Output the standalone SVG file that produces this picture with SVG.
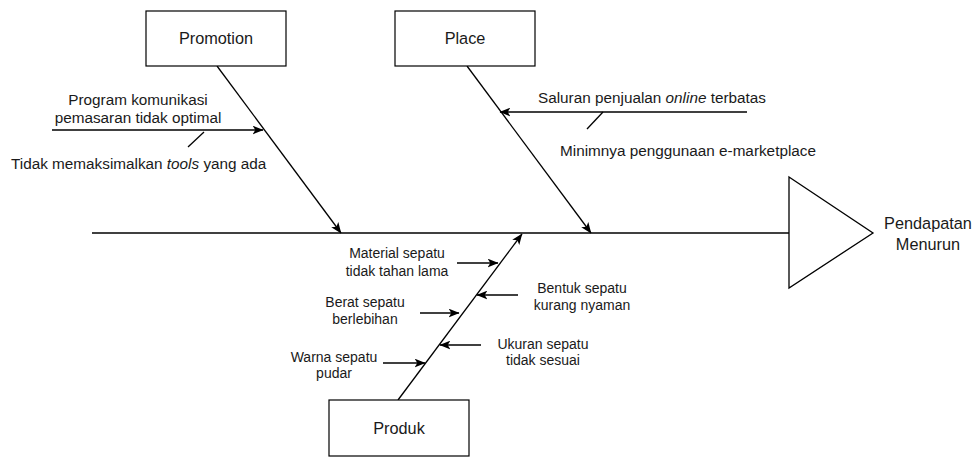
<svg xmlns="http://www.w3.org/2000/svg" width="977" height="457" viewBox="0 0 977 457">
<defs>
<marker id="arr" viewBox="0 0 10 8" refX="9.5" refY="4" markerWidth="11" markerHeight="9" markerUnits="userSpaceOnUse" orient="auto">
<path d="M0,0 L10,4 L0,8 L2.5,4 z" fill="#000"/>
</marker>
<style>
.box{fill:#fff;stroke:#000;stroke-width:1.2}
.ln{stroke:#000;stroke-width:1.3;fill:none}
.la{stroke:#000;stroke-width:1.3;fill:none;marker-end:url(#arr)}
.t{font-family:"Liberation Sans",Arial,sans-serif;font-size:14px;fill:#1a1a1a;text-anchor:middle;dominant-baseline:central}
.tm{font-family:"Liberation Sans",Arial,sans-serif;font-size:15.3px;fill:#1a1a1a;text-anchor:middle;dominant-baseline:central}
.tl{font-family:"Liberation Sans",Arial,sans-serif;font-size:15.3px;fill:#1a1a1a;dominant-baseline:central}
.tb{font-family:"Liberation Sans",Arial,sans-serif;font-size:16.3px;fill:#1a1a1a;text-anchor:middle;dominant-baseline:central}
</style>
</defs>
<rect width="977" height="457" fill="#fff"/>
<g id="connectors">
<line class="ln" x1="92" y1="233" x2="789" y2="233"/>
<line class="la" x1="217" y1="66" x2="341" y2="233"/>
<line class="la" x1="467" y1="66" x2="591" y2="233"/>
<line class="la" x1="398" y1="400" x2="522" y2="234"/>
<line class="la" x1="52" y1="130" x2="263" y2="130"/>
<line class="ln" x1="204" y1="132" x2="188" y2="147"/>
<line class="la" x1="747" y1="112" x2="500" y2="112"/>
<line class="ln" x1="603" y1="112" x2="587" y2="129"/>
<line class="la" x1="457" y1="263" x2="498" y2="263"/>
<line class="la" x1="518" y1="295" x2="477" y2="295"/>
<line class="la" x1="420" y1="313" x2="459" y2="313"/>
<line class="la" x1="481" y1="345" x2="440" y2="345"/>
<line class="la" x1="383" y1="363" x2="425" y2="363"/>
</g>
<g id="promotion">
<rect class="box" x="146" y="11" width="140" height="55"/>
<text class="tb" x="216" y="38">Promotion</text>
</g>
<g id="place">
<rect class="box" x="395" y="11" width="140" height="55"/>
<text class="tb" x="465" y="38">Place</text>
</g>
<g id="produk">
<rect class="box" x="329" y="400" width="140" height="56"/>
<text class="tb" x="399" y="428">Produk</text>
</g>
<g id="head">
<polygon points="789,177 873,233 789,288" fill="#fff" stroke="#000" stroke-width="1.3"/>
<text class="tb" x="928" y="223">Pendapatan</text>
<text class="tb" x="928" y="244">Menurun</text>
</g>
<g id="promo-causes">
<text class="tm" x="138" y="99">Program komunikasi</text>
<text class="tm" x="138" y="117">pemasaran tidak optimal</text>
<text class="tl" x="11" y="163">Tidak memaksimalkan <tspan font-style="italic">tools</tspan> yang ada</text>
</g>
<g id="place-causes">
<text class="tl" x="538" y="97">Saluran penjualan <tspan font-style="italic">online</tspan> terbatas</text>
<text class="tl" x="560" y="150">Minimnya penggunaan e-marketplace</text>
</g>
<g id="produk-causes">
<text class="t" x="397" y="253">Material sepatu</text>
<text class="t" x="397" y="271">tidak tahan lama</text>
<text class="t" x="582" y="288">Bentuk sepatu</text>
<text class="t" x="582" y="305">kurang nyaman</text>
<text class="t" x="365" y="302">Berat sepatu</text>
<text class="t" x="365" y="319">berlebihan</text>
<text class="t" x="543" y="344">Ukuran sepatu</text>
<text class="t" x="543" y="360">tidak sesuai</text>
<text class="t" x="334" y="357">Warna sepatu</text>
<text class="t" x="334" y="373">pudar</text>
</g>
</svg>
